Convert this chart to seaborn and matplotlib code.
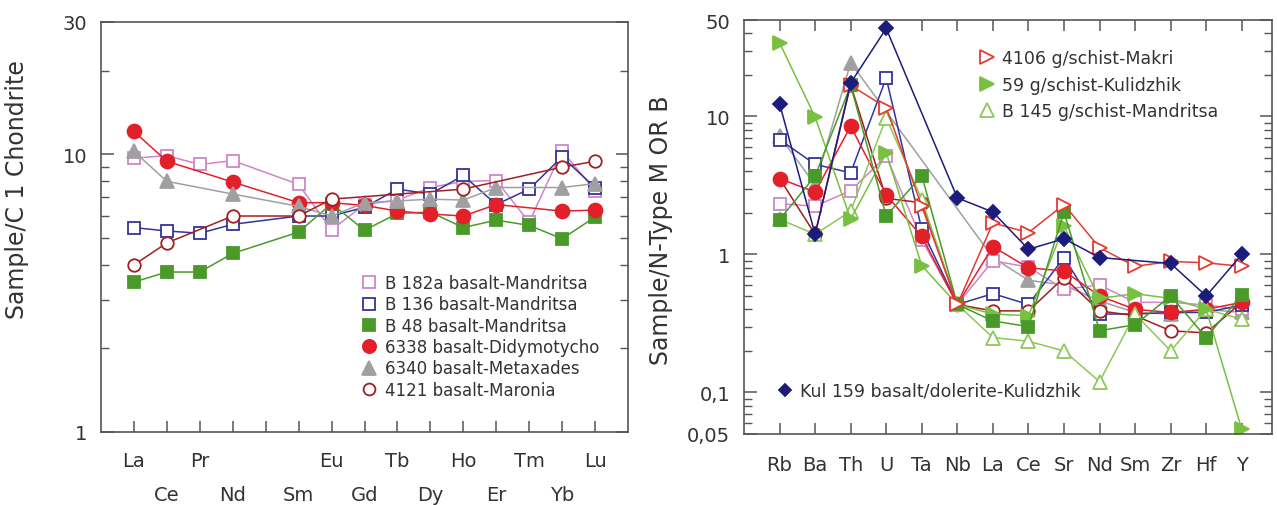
import numpy as np
import matplotlib
matplotlib.use("Agg")
import matplotlib.pyplot as plt
from matplotlib.lines import Line2D
from matplotlib.ticker import LogLocator, NullFormatter
import pandas as pd
import seaborn as sns

nan = np.nan

# REE diagram (chondrite normalised)
ree = ["La", "Ce", "Pr", "Nd", "Pm", "Sm", "Eu", "Gd", "Tb", "Dy", "Ho", "Er", "Tm", "Yb", "Lu"]
ree_labels = ["La", "Ce", "Pr", "Nd", "", "Sm", "Eu", "Gd", "Tb", "Dy", "Ho", "Er", "Tm", "Yb", "Lu"]
b182a = [9.7, 9.9, 9.2, 9.5, nan, 7.8, 5.35, 6.6, 6.85, 7.6, 8.0, 8.05, 5.7, 10.3, 7.4]
b136 = [5.45, 5.3, 5.2, 5.6, nan, 6.0, 6.0, 6.45, 7.5, 7.2, 8.4, 6.6, 7.5, 9.8, 7.6]
b48 = [3.47, 3.77, 3.77, 4.4, nan, 5.25, 6.65, 5.33, 6.13, 6.2, 5.45, 5.8, 5.55, 4.97, 5.95]
s6338 = [12.1, 9.45, nan, 7.95, nan, 6.7, 6.7, 6.55, 6.25, 6.1, 6.0, 6.6, nan, 6.25, 6.3]
s6340 = [10.25, 8.0, nan, 7.2, nan, 6.5, 6.0, 6.7, 6.8, 6.9, 6.85, 7.6, nan, 7.6, 7.85]
s4121 = [4.0, 4.8, nan, 6.0, nan, 6.0, 6.9, nan, nan, nan, 7.5, nan, nan, 9.0, 9.45]

# spider diagram (N-MORB normalised)
spider = ["Rb", "Ba", "Th", "U", "Ta", "Nb", "La", "Ce", "Sr", "Nd", "Sm", "Zr", "Hf", "Y"]
r_b182a = [2.33, 2.24, 2.9, 5.15, 1.28, 0.434, 0.9, 0.81, 0.56, 0.6, 0.45, 0.45, 0.43, 0.4]
r_b136 = [6.8, 4.5, 3.9, 19.0, 1.52, 0.434, 0.52, 0.434, 0.95, 0.37, 0.37, 0.38, 0.38, 0.43]
r_b48 = [1.79, 3.7, 16.8, 1.9, 3.73, 0.434, 0.33, 0.30, 2.03, 0.28, 0.31, 0.5, 0.25, 0.51]
r_6338 = [3.55, 2.83, 8.5, 2.7, 1.35, 0.434, 1.14, 0.8, 0.76, 0.5, 0.4, 0.38, 0.4, 0.45]
r_6340 = [7.2, 3.2, 24.5, nan, nan, nan, 0.95, 0.65, 0.6, 0.46, 0.38, 0.37, 0.4, 0.38]
r_4121 = [3.55, 1.4, 17.0, 2.55, 2.37, 0.434, 0.39, 0.39, 0.68, 0.39, 0.36, 0.28, 0.27, 0.45]
r_4106 = [nan, nan, 16.8, 11.6, 2.24, 0.434, 1.69, 1.44, 2.3, 1.12, 0.82, 0.89, 0.87, 0.82]
r_59 = [34.2, 9.9, 1.8, 5.45, 0.83, 0.434, 0.37, 0.36, 1.6, 0.48, 0.52, 0.48, 0.4, 0.054]
r_b145 = [1.8, 1.4, 2.06, 9.8, 2.5, 0.434, 0.25, 0.235, 0.2, 0.12, 0.37, 0.2, 0.4, 0.34]
r_kul159 = [12.4, 1.4, 17.5, 43.4, nan, 2.57, 2.03, 1.09, 1.3, 0.95, nan, 0.86, 0.5, 1.0]

styles = {
    "B 182a basalt-Mandritsa": dict(color="#cf86c8", marker="s", fill=False, ms=9),
    "B 136 basalt-Mandritsa": dict(color="#34349a", marker="s", fill=False, ms=9),
    "B 48 basalt-Mandritsa": dict(color="#4a9a2a", marker="s", fill=True, ms=9),
    "6338 basalt-Didymotycho": dict(color="#e2202a", marker="o", fill=True, ms=10),
    "6340 basalt-Metaxades": dict(color="#a0a0a0", marker="^", fill=True, ms=10),
    "4121 basalt-Maronia": dict(color="#a02020", marker="o", fill=False, ms=9),
    "4106 g/schist-Makri": dict(color="#e53a30", marker=">", fill=False, ms=10),
    "59 g/schist-Kulidzhik": dict(color="#78c040", marker=">", fill=True, ms=10),
    "B 145 g/schist-Mandritsa": dict(color="#8dc85a", marker="^", fill=False, ms=10),
    "Kul 159 basalt/dolerite-Kulidzhik": dict(color="#1c1c7c", marker="D", fill=True, ms=7),
}

left_series = [("B 182a basalt-Mandritsa", b182a), ("B 136 basalt-Mandritsa", b136),
               ("B 48 basalt-Mandritsa", b48), ("6338 basalt-Didymotycho", s6338),
               ("6340 basalt-Metaxades", s6340), ("4121 basalt-Maronia", s4121)]
right_series = [("6340 basalt-Metaxades", r_6340), ("B 182a basalt-Mandritsa", r_b182a),
                ("B 136 basalt-Mandritsa", r_b136), ("4121 basalt-Maronia", r_4121),
                ("6338 basalt-Didymotycho", r_6338), ("B 145 g/schist-Mandritsa", r_b145),
                ("59 g/schist-Kulidzhik", r_59), ("B 48 basalt-Mandritsa", r_b48),
                ("4106 g/schist-Makri", r_4106), ("Kul 159 basalt/dolerite-Kulidzhik", r_kul159)]

sns.set_style("ticks")
plt.rcParams["font.family"] = ["DejaVu Sans"]
txt = "#333333"
spine_c = "#555555"


def draw(ax, names, series):
    for name, vals in series:
        st = styles[name]
        df = pd.DataFrame({"el": range(len(names)), "v": vals}).dropna()
        sns.lineplot(data=df, x="el", y="v", ax=ax, sort=False, estimator=None,
                     color=st["color"], linewidth=1.1, marker=st["marker"],
                     markersize=st["ms"], markeredgewidth=1.3,
                     markerfacecolor=st["color"] if st["fill"] else "white",
                     markeredgecolor=st["color"])


def handle(name):
    st = styles[name]
    return Line2D([], [], linestyle="none", marker=st["marker"], markersize=st["ms"] - 0.5,
                  markeredgewidth=1.3, markeredgecolor=st["color"],
                  markerfacecolor=st["color"] if st["fill"] else "none")


def frame(ax):
    for s in ax.spines.values():
        s.set_color(spine_c)
        s.set_linewidth(1.2)
    ax.set_xlabel("")
    ax.yaxis.set_minor_locator(LogLocator(base=10, subs=np.arange(2, 10)))
    ax.yaxis.set_minor_formatter(NullFormatter())
    ax.tick_params(axis="y", which="major", direction="in", length=9, width=1.1,
                   left=True, right=True, colors=spine_c, labelcolor=txt, labelsize=14, pad=10)
    ax.tick_params(axis="y", which="minor", direction="in", length=6, width=1.0,
                   left=True, right=True, colors=spine_c)


fig = plt.figure(figsize=(12.77, 5.06), dpi=100)
ax1 = fig.add_axes([101 / 1277, 73 / 506, 527 / 1277, 410 / 506])
ax2 = fig.add_axes([744 / 1277, 71 / 506, 528 / 1277, 414 / 506])

# left panel
draw(ax1, ree, left_series)
ax1.set_yscale("log")
ax1.set_ylim(1, 30)
ax1.set_xlim(-1, 15)
frame(ax1)
ax1.set_yticks([1, 10, 30], ["1", "10", "30"])
even = [i for i in range(len(ree)) if i % 2 == 0]
odd = [i for i in range(len(ree)) if i % 2 == 1]
ax1.set_xticks(even, [ree_labels[i] for i in even])
ax1.set_xticks(odd, [ree_labels[i] for i in odd], minor=True)
ax1.tick_params(axis="x", which="both", direction="in", length=8, width=1.1,
                bottom=True, top=False, colors=spine_c, labelcolor=txt, labelsize=14)
ax1.tick_params(axis="x", which="major", pad=14)
ax1.tick_params(axis="x", which="minor", pad=38)
ax1.set_ylabel("")
fig.text(17 / 1277, 1 - 190 / 506, "Sample/C 1 Chondrite", rotation=90, ha="center",
         va="center", fontsize=17, color=txt)
ax1.legend(handles=[handle(n) for n, _ in left_series], labels=[n for n, _ in left_series],
           loc="upper left", bbox_to_anchor=(0.493, 0.385), frameon=False, fontsize=12,
           handlelength=1.0, handletextpad=0.45, labelspacing=0.2, borderpad=0,
           borderaxespad=0, labelcolor=txt)

# right panel
draw(ax2, spider, right_series)
ax2.set_yscale("log")
ax2.set_ylim(0.05, 50)
ax2.set_xlim(-1, 13.85)
frame(ax2)
ax2.set_yticks([0.05, 0.1, 1, 10, 50], ["0,05", "0,1", "1", "10", "50"])
ax2.set_xticks(range(len(spider)), spider)
ax2.tick_params(axis="x", which="both", direction="in", length=8, width=1.1,
                bottom=True, top=True, colors=spine_c, labelcolor=txt, labelsize=14, pad=15)
ax2.set_ylabel("")
fig.text(661 / 1277, 1 - 230 / 506, "Sample/N-Type M OR B", rotation=90, ha="center",
         va="center", fontsize=17, color=txt)
top_names = ["4106 g/schist-Makri", "59 g/schist-Kulidzhik", "B 145 g/schist-Mandritsa"]
leg_top = ax2.legend(handles=[handle(n) for n in top_names], labels=top_names,
                     loc="upper left", bbox_to_anchor=(0.443, 0.93), frameon=False,
                     fontsize=12.5, handlelength=1.0, handletextpad=0.4, labelspacing=0.5,
                     borderpad=0, borderaxespad=0, labelcolor=txt)
ax2.add_artist(leg_top)
kul = "Kul 159 basalt/dolerite-Kulidzhik"
ax2.legend(handles=[handle(kul)], labels=[kul], loc="upper left",
           bbox_to_anchor=(0.061, 0.126), frameon=False, fontsize=12.5, handlelength=1.0,
           handletextpad=0.35, borderpad=0, borderaxespad=0, labelcolor=txt)

fig.savefig("out.png", dpi=100, facecolor="white")
